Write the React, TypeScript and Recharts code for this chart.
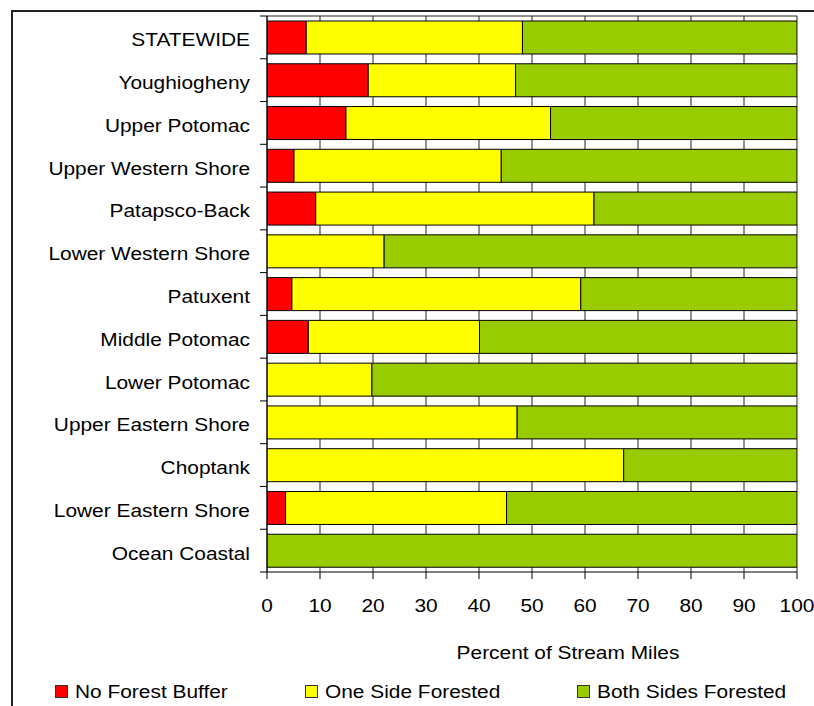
import React from "react";
import { BarChart, Bar, XAxis, YAxis, CartesianGrid, Legend } from "recharts";

const regions = [
  "STATEWIDE",
  "Youghiogheny",
  "Upper Potomac",
  "Upper Western Shore",
  "Patapsco-Back",
  "Lower Western Shore",
  "Patuxent",
  "Middle Potomac",
  "Lower Potomac",
  "Upper Eastern Shore",
  "Choptank",
  "Lower Eastern Shore",
  "Ocean Coastal",
];
const noForestBuffer = [7.4, 19.1, 14.9, 5.1, 9.2, 0, 4.7, 7.8, 0, 0, 0, 3.5, 0];
const oneSideForested = [40.8, 27.8, 38.6, 39.1, 52.5, 22.1, 54.5, 32.3, 19.8, 47.2, 67.3, 41.7, 0];
const bothSidesForested = [51.8, 53.1, 46.5, 55.8, 38.3, 77.9, 40.8, 59.9, 80.2, 52.8, 32.7, 54.8, 100];
const percentTicks = [0, 10, 20, 30, 40, 50, 60, 70, 80, 90, 100];

const seriesNames = ["No Forest Buffer", "One Side Forested", "Both Sides Forested"];
const COLORS = ["#FF0000", "#FFFF00", "#99CC00"];

const data = regions.map((region, i) => ({
  region,
  noForest: noForestBuffer[i],
  oneSide: oneSideForested[i],
  both: bothSidesForested[i],
}));

const FONT = '"Liberation Sans", Arial, sans-serif';
const PLOT_TOP = 16;
const PLOT_BOTTOM = 572;
const PLOT_LEFT = 267;
const X_AXIS_HEIGHT = 70;
const BAND = (PLOT_BOTTOM - PLOT_TOP) / regions.length;

// text in the original is slightly stretched sideways
const Stretch = ({ x, y, anchor, children }: any) => (
  <text
    transform={`translate(${x},${y}) scale(1.13,1)`}
    textAnchor={anchor}
    fontFamily={FONT}
    fontSize={18.5}
    fill="#000"
  >
    {children}
  </text>
);

const RegionTick = ({ y, payload, index }: any) => (
  <g>
    <line x1={PLOT_LEFT - 7} x2={PLOT_LEFT} y1={y - BAND / 2} y2={y - BAND / 2} stroke="#000" />
    {index === regions.length - 1 && (
      <line x1={PLOT_LEFT - 7} x2={PLOT_LEFT} y1={y + BAND / 2} y2={y + BAND / 2} stroke="#000" />
    )}
    <Stretch x={250} y={y + 9} anchor="end">
      {payload.value}
    </Stretch>
  </g>
);

const PercentTick = ({ x, payload }: any) => (
  <Stretch x={x} y={612} anchor="middle">
    {payload.value}
  </Stretch>
);

const legendX = [55, 305, 577];

const LegendContent = () => (
  <svg width={814} height={26} style={{ display: "block" }}>
    {seriesNames.map((name, i) => (
      <g key={name}>
        <rect x={legendX[i] + 0.5} y={7.5} width={12} height={12} fill={COLORS[i]} stroke="#333" />
        <Stretch x={legendX[i] + 20} y={20} anchor="start">
          {name}
        </Stretch>
      </g>
    ))}
  </svg>
);

const App = () => {
  return (
    <div>
      <div
        style={{
          position: "absolute",
          left: 11,
          top: 10,
          width: 803,
          height: 696,
          borderLeft: "2px solid #222",
          borderTop: "2px solid #222",
          boxSizing: "border-box",
        }}
      />
      <div style={{ position: "absolute", left: 0, top: 0 }}>
        <BarChart
          width={814}
          height={706}
          data={data}
          layout="vertical"
          margin={{ top: PLOT_TOP, right: 17, bottom: 706 - PLOT_BOTTOM - X_AXIS_HEIGHT, left: 0 }}
        >
          <CartesianGrid stroke="#222" horizontalPoints={[PLOT_TOP]} />
          <XAxis
            type="number"
            domain={[0, 100]}
            allowDataOverflow
            ticks={percentTicks}
            height={X_AXIS_HEIGHT}
            tickSize={7}
            axisLine={{ stroke: "#000" }}
            tickLine={{ stroke: "#000" }}
            tick={<PercentTick />}
            label={{
              content: () => (
                <Stretch x={568} y={659} anchor="middle">
                  Percent of Stream Miles
                </Stretch>
              ),
            }}
          />
          <YAxis
            type="category"
            dataKey="region"
            width={PLOT_LEFT}
            interval={0}
            tickLine={false}
            axisLine={{ stroke: "#000" }}
            tick={<RegionTick />}
          />
          <Legend
            layout="horizontal"
            verticalAlign="middle"
            align="center"
            wrapperStyle={{ position: "absolute", top: 678, left: 0, width: 814, height: 26 }}
            content={<LegendContent />}
          />
          <Bar dataKey="noForest" name={seriesNames[0]} stackId="a" fill={COLORS[0]} stroke="#000" barSize={33} isAnimationActive={false} />
          <Bar dataKey="oneSide" name={seriesNames[1]} stackId="a" fill={COLORS[1]} stroke="#000" barSize={33} isAnimationActive={false} />
          <Bar dataKey="both" name={seriesNames[2]} stackId="a" fill={COLORS[2]} stroke="#000" barSize={33} isAnimationActive={false} />
        </BarChart>
      </div>
    </div>
  );
};

export default App;
